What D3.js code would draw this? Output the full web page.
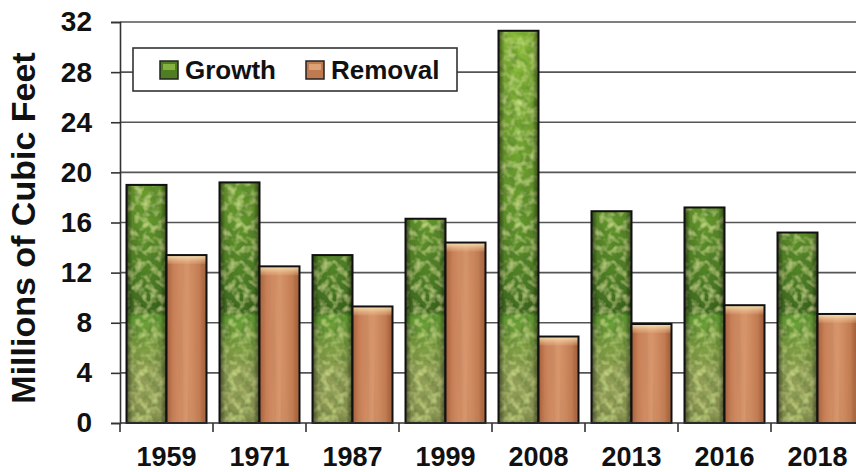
<!DOCTYPE html>
<html>
<head>
<meta charset="utf-8">
<script src="https://cdn.jsdelivr.net/npm/d3@7"></script>
<style>
  html, body { margin: 0; padding: 0; background: #fff; }
  svg { display: block; }
  text { font-family: "Liberation Sans", Arial, sans-serif; font-weight: bold; fill: #111; }
</style>
</head>
<body>
<div id="chart"></div>
<script>
// growth vs removal, millions of cubic feet
const years = ["1959", "1971", "1987", "1999", "2008", "2013", "2016", "2018"];
const growth = [19.0, 19.2, 13.4, 16.3, 31.3, 16.9, 17.2, 15.2];
const removal = [13.4, 12.5, 9.3, 14.4, 6.9, 7.9, 9.4, 8.7];
const seriesNames = ["Growth", "Removal"];
const yTicks = [0, 4, 8, 12, 16, 20, 24, 28, 32];

const width = 856, height = 472;
const margin = { left: 120, top: 22, bottom: 49, right: -8 };

let svg = d3.select("#chart")
    .append("svg")
    .attr("width", width)
    .attr("height", height);

let defs = svg.append("defs");

let x0 = d3.scaleBand()
    .domain(years)
    .range([margin.left, width - margin.right])
    .paddingInner(0)
    .paddingOuter(0);

let x1 = d3.scaleBand()
    .domain(seriesNames)
    .range([0, x0.bandwidth()])
    .paddingInner(0)
    .paddingOuter(0.1625);

let y = d3.scaleLinear()
    .domain([0, 32])
    .range([height - margin.bottom, margin.top]);

// --- fills (rough imitation of the photo textures) ---
let gv = defs.append("linearGradient")
    .attr("id", "growthV")
    .attr("gradientUnits", "userSpaceOnUse")
    .attr("x1", 0).attr("x2", 0)
    .attr("y1", y(32)).attr("y2", y(0));
[[0, "#8ec03a"], [0.25, "#78aa32"], [0.5, "#62962a"], [0.66, "#4a7c22"], [0.72, "#3a661c"],
 [0.735, "#64a032"], [0.8, "#7a9e3e"], [0.88, "#96a25a"], [1, "#8a9550"]]
    .forEach(s => gv.append("stop").attr("offset", s[0]).attr("stop-color", s[1]));

let gh = defs.append("linearGradient")
    .attr("id", "growthH")
    .attr("x1", 0).attr("x2", 1).attr("y1", 0).attr("y2", 0);
[[0, "#000", 0.55], [0.15, "#000", 0.08], [0.5, "#000", 0], [0.85, "#000", 0.08], [1, "#000", 0.55]]
    .forEach(s => gh.append("stop").attr("offset", s[0]).attr("stop-color", s[1]).attr("stop-opacity", s[2]));

let rh = defs.append("linearGradient")
    .attr("id", "removalH")
    .attr("x1", 0).attr("x2", 1).attr("y1", 0).attr("y2", 1e-6);
[[0, "#a5603a"], [0.18, "#c98058"], [0.5, "#d8966c"], [0.82, "#c47c52"], [1, "#9a5834"]]
    .forEach(s => rh.append("stop").attr("offset", s[0]).attr("stop-color", s[1]));

let rv = defs.append("linearGradient")
    .attr("id", "removalTop")
    .attr("x1", 0).attr("x2", 0).attr("y1", 0).attr("y2", 1);
[[0, "#fff0c4", 0.9], [1, "#f3c894", 0.15]]
    .forEach(s => rv.append("stop").attr("offset", s[0]).attr("stop-color", s[1]).attr("stop-opacity", s[2]));

// leafy noise: light and dark speckles clipped to the bar
function speckle(filter, seed, freq, rgb, slope, name) {
    filter.append("feTurbulence")
        .attr("type", "fractalNoise").attr("baseFrequency", freq)
        .attr("numOctaves", 2).attr("seed", seed).attr("result", name + "N");
    filter.append("feColorMatrix").attr("in", name + "N").attr("type", "matrix")
        .attr("values", "0 0 0 0 " + rgb[0] + "  0 0 0 0 " + rgb[1] + "  0 0 0 0 " + rgb[2] + "  2.2 0 0 0 -0.95")
        .attr("result", name + "C");
    filter.append("feComposite").attr("in", name + "C").attr("in2", "SourceGraphic")
        .attr("operator", "in").attr("result", name + "K");
    filter.append("feComponentTransfer").attr("in", name + "K").attr("result", name)
        .append("feFuncA").attr("type", "linear").attr("slope", slope);
}

let leaf = defs.append("filter").attr("id", "leaf")
    .attr("x", 0).attr("y", 0).attr("width", 1).attr("height", 1);
speckle(leaf, 7, 0.13, [0.72, 0.86, 0.3], 0.7, "light");
speckle(leaf, 21, 0.11, [0.08, 0.2, 0.03], 0.7, "dark");
let merge = leaf.append("feMerge");
merge.append("feMergeNode").attr("in", "SourceGraphic");
merge.append("feMergeNode").attr("in", "dark");
merge.append("feMergeNode").attr("in", "light");

let wood = defs.append("filter").attr("id", "wood")
    .attr("x", 0).attr("y", 0).attr("width", 1).attr("height", 1);
speckle(wood, 3, "0.25 0.01", [0.45, 0.22, 0.1], 0.35, "grain");
let merge2 = wood.append("feMerge");
merge2.append("feMergeNode").attr("in", "SourceGraphic");
merge2.append("feMergeNode").attr("in", "grain");

// --- grid ---
svg.append("g")
    .selectAll("line")
    .data(yTicks.filter(d => d > 0))
    .join("line")
    .attr("x1", margin.left)
    .attr("x2", width)
    .attr("y1", d => y(d))
    .attr("y2", d => y(d))
    .attr("stroke", "#555")
    .attr("stroke-width", 1.6);

// --- bars ---
let rows = years.map((yr, i) => ({ year: yr, values: [growth[i], removal[i]] }));

let groups = svg.append("g")
    .selectAll("g")
    .data(rows)
    .join("g")
    .attr("transform", d => "translate(" + x0(d.year) + ",0)");

groups.each(function (d) {
    let g = d3.select(this);
    let gx = x1("Growth"), gw = x1.bandwidth();
    let gy = y(d.values[0]), gh2 = y(0) - y(d.values[0]);
    g.append("rect").attr("x", gx).attr("y", gy).attr("width", gw).attr("height", gh2)
        .attr("fill", "url(#growthV)").attr("filter", "url(#leaf)");
    g.append("rect").attr("x", gx).attr("y", gy).attr("width", gw).attr("height", gh2)
        .attr("fill", "url(#growthH)");
    g.append("rect").attr("x", gx).attr("y", gy).attr("width", gw).attr("height", gh2)
        .attr("fill", "none").attr("stroke", "#111").attr("stroke-width", 2);

    let rx = x1("Removal");
    let ry = y(d.values[1]), rhh = y(0) - y(d.values[1]);
    g.append("rect").attr("x", rx).attr("y", ry).attr("width", gw).attr("height", rhh)
        .attr("fill", "url(#removalH)").attr("filter", "url(#wood)");
    g.append("rect").attr("x", rx).attr("y", ry).attr("width", gw).attr("height", 9)
        .attr("fill", "url(#removalTop)");
    g.append("rect").attr("x", rx).attr("y", ry).attr("width", gw).attr("height", rhh)
        .attr("fill", "none").attr("stroke", "#111").attr("stroke-width", 2);
});

// --- axes ---
let yAxis = d3.axisLeft(y)
    .tickValues(yTicks)
    .tickSize(9)
    .tickPadding(19);

let yg = svg.append("g")
    .attr("transform", "translate(" + margin.left + ",0)")
    .call(yAxis);
yg.select(".domain").attr("stroke", "#333").attr("stroke-width", 1.6);
yg.selectAll(".tick line").attr("stroke", "#333").attr("stroke-width", 1.6);
yg.selectAll(".tick text")
    .attr("font-size", 28)
    .attr("font-family", "Liberation Sans, Arial, sans-serif")
    .attr("font-weight", "bold")
    .attr("fill", "#111");

// x axis: baseline plus ticks at category boundaries
let xg = svg.append("g");
xg.append("line")
    .attr("x1", margin.left).attr("x2", width)
    .attr("y1", y(0)).attr("y2", y(0))
    .attr("stroke", "#333").attr("stroke-width", 1.6);
xg.selectAll("line.tk")
    .data(years)
    .join("line")
    .attr("class", "tk")
    .attr("x1", d => x0(d)).attr("x2", d => x0(d))
    .attr("y1", y(0)).attr("y2", y(0) + 9)
    .attr("stroke", "#333").attr("stroke-width", 1.6);
xg.selectAll("text")
    .data(years)
    .join("text")
    .attr("x", d => x0(d) + x0.bandwidth() / 2)
    .attr("y", 466)
    .attr("text-anchor", "middle")
    .attr("font-size", 27)
    .text(d => d);

svg.append("text")
    .attr("transform", "translate(35," + 228 + ") rotate(-90)")
    .attr("text-anchor", "middle")
    .attr("font-size", 34)
    .text("Millions of Cubic Feet");

// --- legend ---
let legend = svg.append("g");
legend.append("rect")
    .attr("x", 133).attr("y", 48)
    .attr("width", 324).attr("height", 43)
    .attr("fill", "#fff")
    .attr("stroke", "#333")
    .attr("stroke-width", 1.6);

let legendItems = [
    { name: seriesNames[0], x: 160 },
    { name: seriesNames[1], x: 306 }
];
let li = legend.selectAll("g")
    .data(legendItems)
    .join("g")
    .attr("transform", d => "translate(" + d.x + ",61)");
li.append("rect")
    .attr("width", 18).attr("height", 18)
    .attr("fill", (d, i) => i == 0 ? "#4f7e22" : "#c07a50")
    .attr("stroke", "#222")
    .attr("stroke-width", 1.5);
li.append("rect")
    .attr("x", 3).attr("y", 3).attr("width", 12).attr("height", 6)
    .attr("fill", (d, i) => i == 0 ? "#9cc84a" : "#e8b486")
    .attr("opacity", 0.7);
li.append("text")
    .attr("x", 25)
    .attr("y", 18)
    .attr("font-size", 26)
    .text(d => d.name);
</script>
</body>
</html>
